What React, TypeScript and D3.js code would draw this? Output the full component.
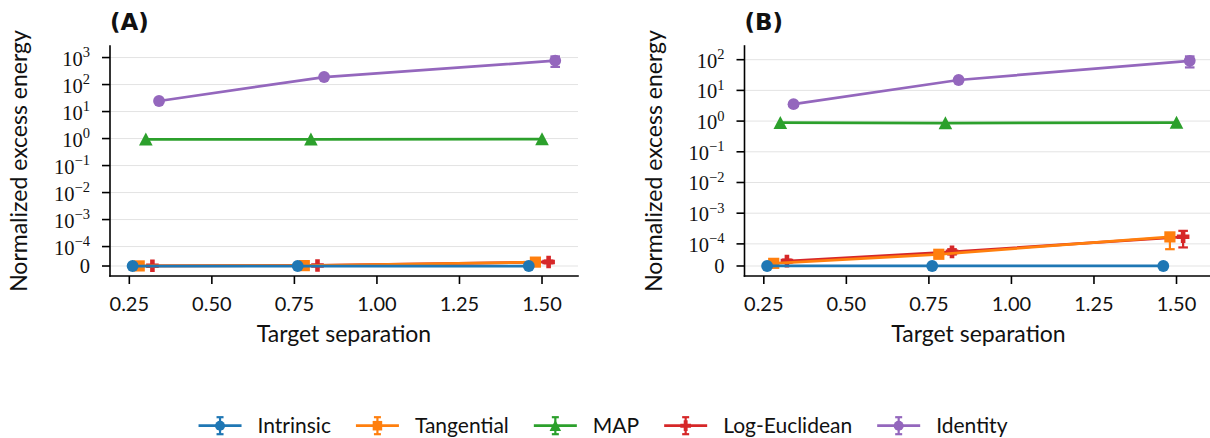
import React, { useEffect, useRef } from 'react';
import * as d3 from 'd3';

// target separations and the dodge applied per method
const separations = [0.3, 0.8, 1.5];
const methods = ['Intrinsic', 'Tangential', 'MAP', 'Log-Euclidean', 'Identity'];
const dodge = [-0.04, -0.02, 0, 0.02, 0.04];
const colors = ['#1f77b4', '#ff7f0e', '#2ca02c', '#d62728', '#9467bd'];
const markers = ['circle', 'square', 'triangle', 'plus', 'circle'];

// panel (A)
const intrinsicA = [0, 0, 0];
const tangentialA = [5e-7, 2e-6, 2.0e-5];
const tangentialALow = [0, 1e-6, 1.5e-5];
const tangentialAHigh = [1e-6, 3e-6, 2.5e-5];
const mapA = [0.94, 0.94, 0.95];
const logEucA = [1e-6, 3e-6, 2.1e-5];
const logEucALow = [0, 1e-6, 1.4e-5];
const logEucAHigh = [2e-6, 5e-6, 2.8e-5];
const identityA = [24.6, 190, 766];
const identityALow = [23, 178, 450];
const identityAHigh = [26.5, 202, 1100];

// panel (B)
const intrinsicB = [0, 0, 0];
const tangentialB = [1.2e-5, 5.3e-5, 1.69e-4];
const tangentialBLow = [8e-6, 4.5e-5, 7.6e-5];
const tangentialBHigh = [1.6e-5, 6.1e-5, 2.1e-4];
const mapB = [0.887, 0.86, 0.89];
const logEucB = [2.2e-5, 6.4e-5, 1.7e-4];
const logEucBLow = [1.5e-5, 5.2e-5, 8.4e-5];
const logEucBHigh = [2.9e-5, 7.6e-5, 2.66e-4];
const identityB = [3.56, 21.8, 92];
const identityBLow = [3.3, 20.6, 56];
const identityBHigh = [3.8, 23, 128];

const yTicksA = [0, 1e-4, 1e-3, 1e-2, 1e-1, 1, 10, 100, 1000];
const yTicksB = [0, 1e-4, 1e-3, 1e-2, 1e-1, 1, 10, 100];
const xTicks = [0.25, 0.5, 0.75, 1.0, 1.25, 1.5];

const LINTHRESH = 1e-4;
const LINSCALE = 0.72;
const symlog = (v: number) =>
  Math.abs(v) <= LINTHRESH
    ? (v / LINTHRESH) * LINSCALE
    : Math.sign(v) * (LINSCALE + Math.log10(Math.abs(v) / LINTHRESH));

const SANS = 'Lato, "DejaVu Sans", sans-serif';
const SERIF = '"Liberation Serif", "DejaVu Serif", serif';
const INK = '#111';

const series = (vals: number[][], lows: number[][], highs: number[][]) =>
  vals.map((v, i) => ({ values: v, low: lows[i], high: highs[i] }));

const panels = [
  {
    title: '(A)', left: 110, top: 46, width: 468, height: 230,
    tDomain: [-0.37, 8.148], ticks: yTicksA,
    data: series(
      [intrinsicA, tangentialA, mapA, logEucA, identityA],
      [intrinsicA, tangentialALow, mapA, logEucALow, identityALow],
      [intrinsicA, tangentialAHigh, mapA, logEucAHigh, identityAHigh]
    ),
  },
  {
    title: '(B)', left: 744.5, top: 46, width: 468, height: 230,
    tDomain: [-0.326, 7.166], ticks: yTicksB,
    data: series(
      [intrinsicB, tangentialB, mapB, logEucB, identityB],
      [intrinsicB, tangentialBLow, mapB, logEucBLow, identityBLow],
      [intrinsicB, tangentialBHigh, mapB, logEucBHigh, identityBHigh]
    ),
  },
];

function markerPath(kind: string): string {
  if (kind === 'circle') return d3.symbol(d3.symbolCircle, 110)()!;
  if (kind === 'square') return 'M-5.6,-5.6H5.6V5.6H-5.6Z';
  if (kind === 'triangle') return 'M0,-6.8L6.8,6.2L-6.8,6.2Z';
  // filled plus
  const a = 2.3, b = 6.3;
  return `M${-a},${-b}H${a}V${-a}H${b}V${a}H${a}V${b}H${-a}V${a}H${-b}V${-a}H${-a}Z`;
}

const App = () => {
  const svgRef = useRef<SVGSVGElement>(null);

  useEffect(() => {
    const svg = d3.select(svgRef.current);
    svg.selectAll('*').remove();
    svg.append('rect').attr('width', 1210).attr('height', 438).attr('fill', '#fff');

    panels.forEach(p => {
      const g = svg.append('g');
      const x = d3.scaleLinear().domain([0.1915, 1.609]).range([p.left, p.left + p.width]);
      const y = d3.scaleLinear().domain(p.tDomain).range([p.top + p.height, p.top]);
      const bottom = p.top + p.height;

      // grid
      g.selectAll('line.grid')
        .data(p.ticks)
        .enter().append('line')
        .attr('x1', p.left).attr('x2', p.left + p.width)
        .attr('y1', d => y(symlog(d))).attr('y2', d => y(symlog(d)))
        .attr('stroke', '#e3e3e3').attr('stroke-width', 1);

      // series, drawn in reverse so Intrinsic lands on top
      d3.range(methods.length).reverse().forEach(i => {
        const s = p.data[i];
        const pts: [number, number][] = separations.map((sep, j) => [x(sep + dodge[i]), y(symlog(s.values[j]))]);
        g.append('path')
          .attr('d', d3.line()(pts))
          .attr('fill', 'none')
          .attr('stroke', colors[i])
          .attr('stroke-width', 2.75);
        separations.forEach((sep, j) => {
          if (s.low[j] === s.high[j]) return;
          const cx = x(sep + dodge[i]);
          const y0 = y(symlog(s.low[j]));
          const y1 = y(symlog(s.high[j]));
          g.append('line').attr('x1', cx).attr('x2', cx).attr('y1', y0).attr('y2', y1)
            .attr('stroke', colors[i]).attr('stroke-width', 2.2);
          [y0, y1].forEach(yy => {
            g.append('line').attr('x1', cx - 4.8).attr('x2', cx + 4.8).attr('y1', yy).attr('y2', yy)
              .attr('stroke', colors[i]).attr('stroke-width', 2.2);
          });
        });
        g.selectAll(null)
          .data(pts)
          .enter().append('path')
          .attr('d', markerPath(markers[i]))
          .attr('transform', d => `translate(${d[0]},${d[1]})`)
          .attr('fill', colors[i]);
      });

      // spines
      g.append('line').attr('x1', p.left).attr('x2', p.left).attr('y1', p.top).attr('y2', bottom)
        .attr('stroke', '#000').attr('stroke-width', 1.6).attr('stroke-linecap', 'square');
      g.append('line').attr('x1', p.left).attr('x2', p.left + p.width).attr('y1', bottom).attr('y2', bottom)
        .attr('stroke', '#000').attr('stroke-width', 1.6).attr('stroke-linecap', 'square');

      // y ticks
      p.ticks.forEach(t => {
        const yy = y(symlog(t));
        g.append('line').attr('x1', p.left - 8).attr('x2', p.left).attr('y1', yy).attr('y2', yy)
          .attr('stroke', '#000').attr('stroke-width', 1.6);
        const txt = g.append('text')
          .attr('x', p.left - 20)
          .attr('y', yy + (t === 0 ? 6.8 : 8))
          .attr('text-anchor', 'end')
          .style('font-family', SERIF)
          .style('font-size', '20.5px')
          .style('fill', INK);
        if (t === 0) {
          txt.text('0');
        } else {
          const e = Math.round(Math.log10(t));
          txt.append('tspan').text('10');
          txt.append('tspan').attr('dy', -8.5).style('font-size', '14.5px')
            .text(e < 0 ? `\u2212${-e}` : `${e}`);
        }
      });

      // x ticks
      xTicks.forEach(t => {
        const xx = x(t);
        g.append('line').attr('x1', xx).attr('x2', xx).attr('y1', bottom).attr('y2', bottom + 8)
          .attr('stroke', '#000').attr('stroke-width', 1.6);
        g.append('text')
          .attr('x', xx).attr('y', bottom + 35)
          .attr('text-anchor', 'middle')
          .style('font-family', SANS).style('font-size', '20px').style('fill', INK)
          .text(d3.format('.2f')(t));
      });

      // labels
      g.append('text')
        .attr('x', p.left + p.width / 2).attr('y', 342)
        .attr('text-anchor', 'middle')
        .style('font-family', SANS).style('font-size', '23px').style('fill', INK)
        .text('Target separation');
      g.append('text')
        .attr('transform', `translate(${p.left - 83},${p.top + p.height / 2}) rotate(-90)`)
        .attr('text-anchor', 'middle')
        .style('font-family', SANS).style('font-size', '23px').style('fill', INK)
        .text('Normalized excess energy');
      g.append('text')
        .attr('x', p.left).attr('y', 30)
        .style('font-family', '"DejaVu Sans", sans-serif').style('font-weight', 'bold')
        .style('font-size', '23px').style('fill', INK)
        .text(p.title);
    });

    // legend
    const leg = svg.append('g');
    const ly = 425.7;
    const items = methods.map((m, i) => {
      const it = leg.append('g');
      it.append('line').attr('x1', 0).attr('x2', 43).attr('y1', ly).attr('y2', ly)
        .attr('stroke', colors[i]).attr('stroke-width', 2.75);
      it.append('line').attr('x1', 21.5).attr('x2', 21.5).attr('y1', ly - 8.5).attr('y2', ly + 8.5)
        .attr('stroke', colors[i]).attr('stroke-width', 2.2);
      [ly - 8.5, ly + 8.5].forEach(yy => {
        it.append('line').attr('x1', 18).attr('x2', 25).attr('y1', yy).attr('y2', yy)
          .attr('stroke', colors[i]).attr('stroke-width', 2.2);
      });
      it.append('path').attr('d', markerPath(markers[i]))
        .attr('transform', `translate(21.5,${ly}) scale(0.85)`).attr('fill', colors[i]);
      const label = it.append('text').attr('x', 59).attr('y', ly + 6.8)
        .style('font-family', SANS).style('font-size', '21px').style('fill', INK)
        .text(m);
      const w = (label.node() as SVGTextElement).getComputedTextLength();
      return { it, w: 59 + w };
    });
    const gap = 25;
    const total = d3.sum(items, d => d.w) + gap * (items.length - 1);
    let cx = 603 - total / 2;
    items.forEach(d => {
      d.it.attr('transform', `translate(${cx},0)`);
      cx += d.w + gap;
    });
  }, []);

  return (
    <svg ref={svgRef} width={1210} height={438} style={{ position: 'absolute', left: 0, top: 0 }} />
  );
};

export default App;
